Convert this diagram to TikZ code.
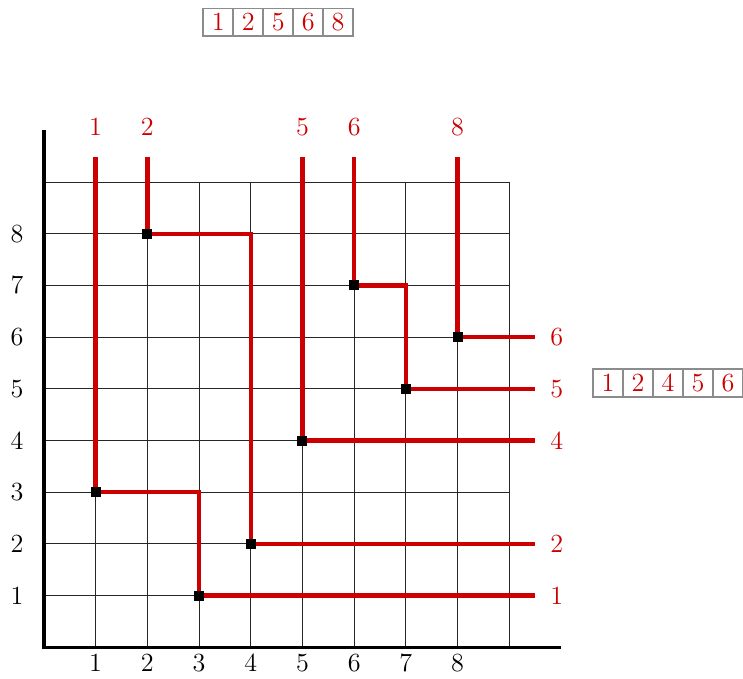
\documentclass[tikz,border=0pt]{standalone}
\usepackage{tikz}
\usetikzlibrary{positioning}
\definecolor{PermRed}{HTML}{CC0000}
\tikzset{
  gridline/.style={draw=black!85, line width=0.55pt},
  axisline/.style={draw=black, line width=2pt},
  permline/.style={draw=PermRed, line width=2.4pt},
  permpt/.style={fill=black, minimum size=5.5pt, inner sep=0pt},
  ticklabel/.style={font=\Large},
  permlabel/.style={font=\Large, text=PermRed},
  cellbox/.style={draw=black!45, line width=0.8pt, fill=white, minimum width=0.58cm, minimum height=0.54cm, inner sep=0pt, font=\Large, text=PermRed}
}

\begin{document}
\begin{tikzpicture}
\useasboundingbox (-0.85,-0.6) rectangle (13.52,12.52);
% grid and axes
\draw[gridline] (0,0) grid (9,9);
\draw[axisline] (0,10) -- (0,0) -- (10,0);
\foreach \i in {1,...,8} {
  \node[ticklabel] (xt\i) at (\i,-0.3) {\i};
  \node[ticklabel] (yt\i) at (-0.52,\i) {\i};
}
% points of the permutation
\node[permpt] (p1) at (1,3) {};
\node[permpt] (p2) at (2,8) {};
\node[permpt] (p3) at (3,1) {};
\node[permpt] (p4) at (4,2) {};
\node[permpt] (p5) at (5,4) {};
\node[permpt] (p6) at (6,7) {};
\node[permpt] (p7) at (7,5) {};
\node[permpt] (p8) at (8,6) {};
% labels on top and right
\foreach \i in {1,2,5,6,8} {
  \node[permlabel] (top\i) at (\i,10.06) {\i};
  \coordinate (in\i) at (\i,9.48);
}
\foreach \i in {1,2,4,5,6} {
  \node[permlabel] (right\i) at (9.92,\i) {\i};
  \coordinate (out\i) at (9.5,\i);
}
% red paths
\draw[permline] (in1) -- (p1.center) -| (p3.center) -- (out1);
\draw[permline] (in2) -- (p2.center) -| (p4.center) -- (out2);
\draw[permline] (in5) -- (p5.center) -- (out4);
\draw[permline] (in6) -- (p6.center) -| (p7.center) -- (out5);
\draw[permline] (in8) -- (p8.center) -- (out6);
\foreach \i in {1,...,8} \node[permpt] at (p\i) {};
% boxed sequences
\node[cellbox] (ta) at (3.37,12.09) {1};
\node[cellbox, right=-0.8pt of ta] (tb) {2};
\node[cellbox, right=-0.8pt of tb] (tc) {5};
\node[cellbox, right=-0.8pt of tc] (td) {6};
\node[cellbox, right=-0.8pt of td] (te) {8};
\node[cellbox] (ra) at (10.91,5.11) {1};
\node[cellbox, right=-0.8pt of ra] (rb) {2};
\node[cellbox, right=-0.8pt of rb] (rc) {4};
\node[cellbox, right=-0.8pt of rc] (rd) {5};
\node[cellbox, right=-0.8pt of rd] (re) {6};
\end{tikzpicture}
\end{document}
